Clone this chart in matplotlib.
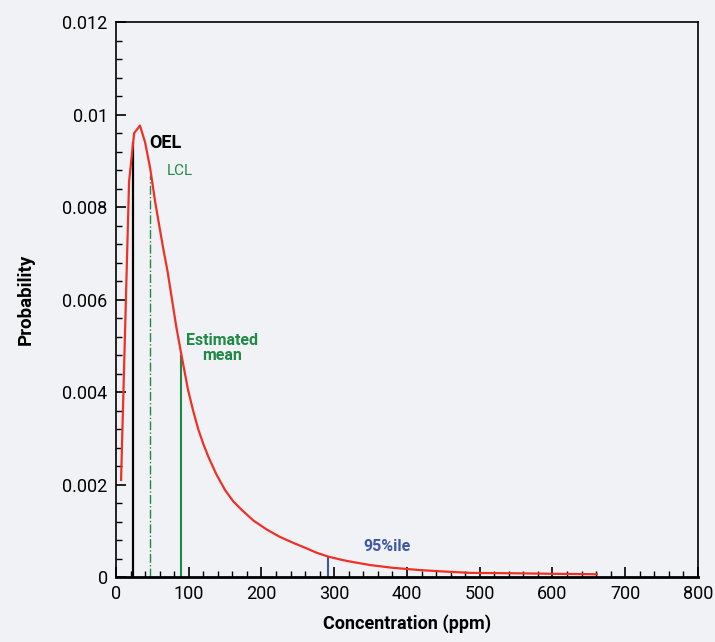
import numpy as np
import matplotlib
matplotlib.use("Agg")
import matplotlib.pyplot as plt
from matplotlib.ticker import MultipleLocator

plt.rcParams['font.family'] = ['Roboto', 'DejaVu Sans']

# curve
conc = [7, 18, 25, 33, 40, 47, 54, 60, 65, 71, 77, 83, 90, 99, 106, 113,
        120, 127, 138, 150, 161, 173, 189, 207, 225, 245, 262, 275, 292,
        308, 320, 349, 380, 418, 450, 487, 520, 555, 600, 661]
prob = [0.0021, 0.00855, 0.0096, 0.00976, 0.0094, 0.00884, 0.0081, 0.00755,
        0.0071, 0.0066, 0.0060, 0.0054, 0.0048, 0.00405, 0.0036, 0.0032,
        0.00288, 0.0026, 0.00222, 0.00188, 0.00164, 0.00145, 0.00122, 0.00103,
        0.00087, 0.00073, 0.00062, 0.00053, 0.00044, 0.00038, 0.00034,
        0.00026, 0.0002, 0.00015, 0.00012, 0.00009, 0.000085, 0.00008,
        0.00007, 0.00006]

oel_x, oel_top = 24, 0.0094
lcl_x, lcl_top = 47, 0.0087
mean_x, mean_top = 89, 0.0048
p95_x, p95_top = 292, 0.00044

bg = '#f1f2f6'
red = '#ee3124'
green = '#1f8a45'
blue = '#3f56a6'

fig = plt.figure(figsize=(7.15, 6.42), dpi=100, facecolor=bg)
ax = fig.add_axes([0.1622, 0.1012, 0.814, 0.8645], facecolor=bg)

ax.plot(conc, prob, color=red, lw=1.6, zorder=3)
ax.vlines(oel_x, 0, oel_top, color='black', lw=1.6, zorder=2)
ax.vlines(lcl_x, 0, lcl_top, color=green, lw=1.0, ls='-.', zorder=2)
ax.vlines(mean_x, 0, mean_top, color=green, lw=1.5, zorder=2)
ax.vlines(p95_x, 0, p95_top, color=blue, lw=1.5, zorder=2)

ax.text(46, 0.00938, 'OEL', fontsize=13, fontweight='bold', color='black', va='center')
ax.text(70, 0.00878, 'LCL', fontsize=11, color=green, va='center')
ax.text(146, 0.00495, 'Estimated\nmean', fontsize=11.5, fontweight='bold', color=green,
        ha='center', va='center', linespacing=0.95)
ax.text(340, 0.00067, '95%ile', fontsize=11.5, fontweight='bold', color=blue, va='center')

ax.set_xlim(0, 800)
ax.set_ylim(0, 0.012)
ax.xaxis.set_major_locator(MultipleLocator(100))
ax.xaxis.set_minor_locator(MultipleLocator(20))
ax.yaxis.set_minor_locator(MultipleLocator(0.0004))
ax.set_yticks([0, 0.002, 0.004, 0.006, 0.008, 0.01, 0.012])
ax.set_yticklabels(['0', '0.002', '0.004', '0.006', '0.008', '0.01', '0.012'])
ax.tick_params(which='major', direction='in', length=7, width=1.2, labelsize=13, pad=6)
ax.tick_params(which='minor', direction='in', length=4, width=1.0)
for s in ax.spines.values():
    s.set_linewidth(1.2)
ax.spines['bottom'].set_linewidth(2)

ax.set_xlabel('Concentration (ppm)', fontsize=13, fontweight='bold', labelpad=8)
ax.set_ylabel('Probability', fontsize=13.5, fontweight='bold', labelpad=20)

fig.savefig('out.png', dpi=100, facecolor=bg)
